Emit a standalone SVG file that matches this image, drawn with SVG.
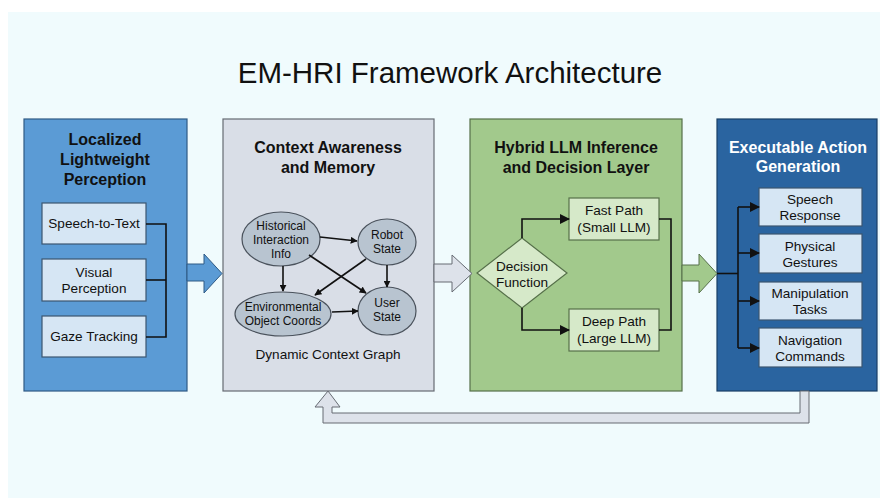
<svg xmlns="http://www.w3.org/2000/svg" width="880" height="498" viewBox="0 0 880 498">
<defs>
<style>
text{font-family:"Liberation Sans",Arial,sans-serif;fill:#111;text-anchor:middle}
.ttl{font-size:16px;font-weight:bold}
.lbl{font-size:13.6px}
.sm{font-size:12px}
.line{fill:none;stroke:#111;stroke-width:1.6}
.ib{fill:#d6e6f4;stroke:#3b5670;stroke-width:1.2}
.gb{fill:#d6e9c9;stroke:#56704a;stroke-width:1.2}
.el{fill:#b8c4d0;stroke:#4a525c;stroke-width:1.2}
</style>
<marker id="ah" viewBox="0 0 10 10" refX="9" refY="5" markerWidth="7" markerHeight="7" orient="auto" markerUnits="userSpaceOnUse">
<path d="M0,0 L10,5 L0,10 z" fill="#111"/>
</marker>
<marker id="ah2" viewBox="0 0 10 10" refX="9" refY="5" markerWidth="10" markerHeight="10" orient="auto" markerUnits="userSpaceOnUse">
<path d="M0,0 L10,5 L0,10 z" fill="#111"/>
</marker>
</defs>
<rect width="880" height="498" fill="#ffffff"/>
<rect x="8" y="12" width="872" height="486" fill="#f0fbfd"/>
<text x="450" y="83" style="font-size:29.5px">EM-HRI Framework Architecture</text>

<g id="panel-perception">
<rect x="24" y="119" width="163" height="272" fill="#5b9bd5" stroke="#2f5a85" stroke-width="1.2"/>
<text class="ttl" x="105" y="145">Localized</text>
<text class="ttl" x="105" y="165">Lightweight</text>
<text class="ttl" x="105" y="185">Perception</text>
</g>
<g id="speech-to-text"><rect class="ib" x="42" y="203" width="104" height="41"/><text class="lbl" x="94" y="228">Speech-to-Text</text></g>
<g id="visual-perception"><rect class="ib" x="42" y="259" width="104" height="42"/><text class="lbl" x="94" y="277">Visual</text><text class="lbl" x="94" y="293">Perception</text></g>
<g id="gaze-tracking"><rect class="ib" x="42" y="316" width="104" height="41"/><text class="lbl" x="94" y="341">Gaze Tracking</text></g>

<g id="panel-context">
<rect x="223" y="119" width="211" height="272" fill="#d9dee7" stroke="#666b73" stroke-width="1.2"/>
<text class="ttl" x="328" y="153">Context Awareness</text>
<text class="ttl" x="328" y="173">and Memory</text>
<text class="lbl" x="328" y="359">Dynamic Context Graph</text>
</g>
<g id="historical"><ellipse class="el" cx="281" cy="239" rx="39" ry="27"/><text class="sm" x="281" y="230">Historical</text><text class="sm" x="281" y="244">Interaction</text><text class="sm" x="281" y="258">Info</text></g>
<g id="robot-state"><ellipse class="el" cx="387" cy="242" rx="29" ry="23"/><text class="sm" x="387" y="239">Robot</text><text class="sm" x="387" y="253">State</text></g>
<g id="environmental"><ellipse class="el" cx="283" cy="314" rx="48" ry="22"/><text class="sm" x="283" y="311">Environmental</text><text class="sm" x="283" y="325">Object Coords</text></g>
<g id="user-state"><ellipse class="el" cx="387" cy="311" rx="29" ry="24"/><text class="sm" x="387" y="307">User</text><text class="sm" x="387" y="321">State</text></g>

<g id="panel-hybrid">
<rect x="470" y="119" width="212" height="272" fill="#a2c98c" stroke="#56704a" stroke-width="1.2"/>
<text class="ttl" x="576" y="153">Hybrid LLM Inference</text>
<text class="ttl" x="576" y="173">and Decision Layer</text>
</g>
<g id="decision"><polygon points="522,238 567,273 522,308 477,273" fill="#d6e9c9" stroke="#56704a" stroke-width="1.2"/><text class="lbl" x="522" y="271">Decision</text><text class="lbl" x="522" y="287">Function</text></g>
<g id="fast-path"><rect class="gb" x="569" y="198" width="90" height="42"/><text class="lbl" x="614" y="215">Fast Path</text><text class="lbl" x="614" y="232">(Small LLM)</text></g>
<g id="deep-path"><rect class="gb" x="569" y="309" width="90" height="42"/><text class="lbl" x="614" y="326">Deep Path</text><text class="lbl" x="614" y="343">(Large LLM)</text></g>

<g id="panel-action">
<rect x="717" y="119" width="160" height="272" fill="#2a64a0" stroke="#1a3f66" stroke-width="1.2"/>
<text class="ttl" x="798" y="153" style="fill:#fff">Executable Action</text>
<text class="ttl" x="798" y="172" style="fill:#fff">Generation</text>
</g>
<g id="speech-response"><rect class="ib" x="759" y="188" width="103" height="38" stroke="#1d3550"/><text class="lbl" x="810" y="204">Speech</text><text class="lbl" x="810" y="220">Response</text></g>
<g id="physical-gestures"><rect class="ib" x="759" y="234" width="103" height="39"/><text class="lbl" x="810" y="251">Physical</text><text class="lbl" x="810" y="267">Gestures</text></g>
<g id="manipulation-tasks"><rect class="ib" x="759" y="282" width="103" height="38"/><text class="lbl" x="810" y="298">Manipulation</text><text class="lbl" x="810" y="314">Tasks</text></g>
<g id="navigation-commands"><rect class="ib" x="759" y="328" width="103" height="39"/><text class="lbl" x="810" y="345">Navigation</text><text class="lbl" x="810" y="361">Commands</text></g>

<g id="connectors">
<polyline class="line" points="146,224 166,224 166,337 146,337"/>
<line class="line" x1="146" y1="280" x2="166" y2="280"/>
<polygon points="187,264 204,264 204,254 222,273.5 204,293 204,281 187,281" fill="#5b9bd5" stroke="#2f5a85" stroke-width="1"/>
<polygon points="434,264 452,264 452,255 472,273.5 452,292 452,282 434,282" fill="#dde2ea" stroke="#666b73" stroke-width="1"/>
<polygon points="682,265 699,265 699,254 717,273.5 699,293 699,281 682,281" fill="#a2c98c" stroke="#56704a" stroke-width="1"/>
<polygon points="800,391 800,413 332,413 332,407 340,407 328,391 315,407 323,407 323,423 809,423 809,391" fill="#dde2ea" stroke="#666b73" stroke-width="1"/>

<line class="line" x1="320" y1="237" x2="357" y2="241" marker-end="url(#ah)"/>
<line class="line" x1="283" y1="266" x2="283" y2="291" marker-end="url(#ah)"/>
<line class="line" x1="309" y1="255" x2="366" y2="293" marker-end="url(#ah)"/>
<line class="line" x1="366" y1="259" x2="315" y2="295" marker-end="url(#ah)"/>
<line class="line" x1="387" y1="265" x2="387" y2="287" marker-end="url(#ah)"/>
<line class="line" x1="332" y1="312" x2="358" y2="311" marker-end="url(#ah)"/>

<polyline class="line" points="522,238 522,219 569,219" marker-end="url(#ah2)"/>
<polyline class="line" points="522,308 522,330 569,330" marker-end="url(#ah2)"/>
<polyline class="line" points="659,219 671,219 671,330 659,330"/>

<line class="line" x1="717" y1="273.5" x2="738" y2="273.5"/>
<line class="line" x1="738" y1="207" x2="738" y2="348"/>
<line class="line" x1="738" y1="207" x2="759" y2="207" marker-end="url(#ah2)"/>
<line class="line" x1="738" y1="253" x2="759" y2="253" marker-end="url(#ah2)"/>
<line class="line" x1="738" y1="301" x2="759" y2="301" marker-end="url(#ah2)"/>
<line class="line" x1="738" y1="348" x2="759" y2="348" marker-end="url(#ah2)"/>
</g>
</svg>
